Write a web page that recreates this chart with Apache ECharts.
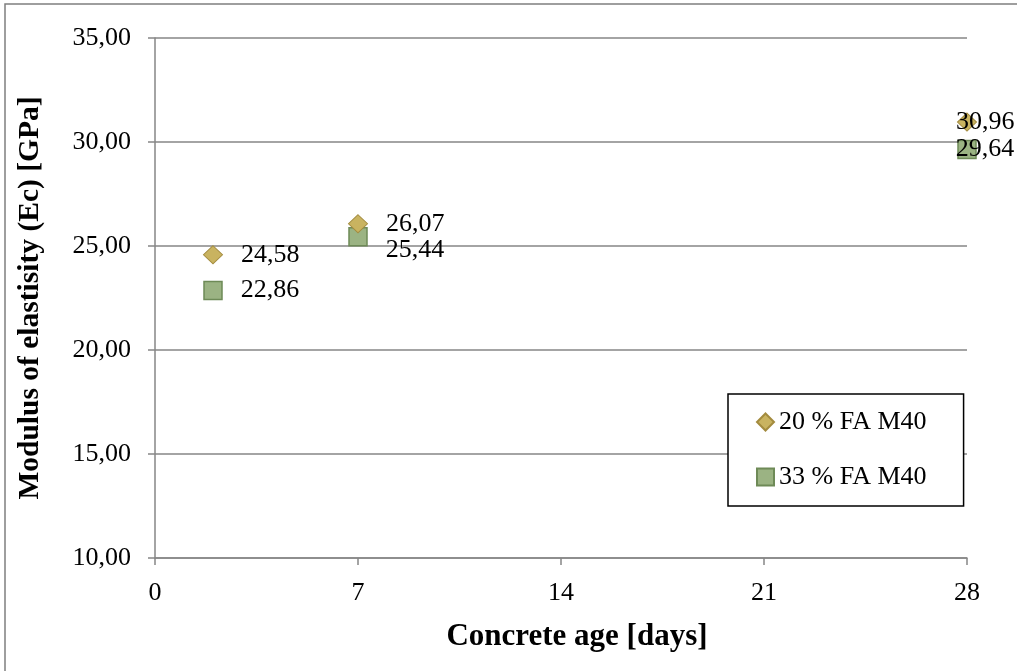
<!DOCTYPE html>
<html><head><meta charset="utf-8">
<script src="https://cdn.jsdelivr.net/npm/echarts@6/dist/echarts.min.js"></script>
<style>html,body{margin:0;padding:0;background:#fff}#c{width:1017px;height:671px}</style>
</head><body><div id="c"></div>
<script>
const ages = [2, 7, 28];
const fa20 = [24.58, 26.07, 30.96];
const fa33 = [22.86, 25.44, 29.64];
const seriesNames = ['20 % FA M40', '33 % FA M40'];
const xTicks = [0, 7, 14, 21, 28];
const yMin = 10, yMax = 35, yStep = 5;

const FONT = 'Liberation Serif';
function fmt(v){ return v.toFixed(2).replace('.', ','); }

function build(vals, overrides){
  return vals.map((v,i)=>{
    const d = {value:[ages[i], v]};
    if (overrides[i]) d.label = overrides[i];
    return d;
  });
}
const chart = echarts.init(document.getElementById('c'), null, {renderer:'canvas'});
const baseLabel = {show:true, position:'right', distance:18, color:'#000', fontFamily:FONT, fontSize:26,
  formatter:p=>fmt(p.value[1])};
chart.setOption({
  animation:false,
  backgroundColor:'#fff',
  graphic:[{type:'rect', shape:{x:5,y:4,width:1100,height:800}, style:{fill:'none', stroke:'#7f7f7f', lineWidth:1.5}, z:-1}],
  grid:{left:155, right:50, top:38, bottom:113},
  xAxis:{type:'value', min:xTicks[0], max:xTicks[xTicks.length-1], interval:7,
    name:'Concrete age [days]', nameLocation:'middle', nameGap:63,
    nameTextStyle:{fontFamily:FONT, fontWeight:'bold', fontSize:31, color:'#000', padding:[0,0,0,32]},
    axisLine:{lineStyle:{color:'#868686', width:1.5}},
    axisTick:{show:true, length:7, lineStyle:{color:'#868686', width:1.5}},
    axisLabel:{color:'#000', fontFamily:FONT, fontSize:26, margin:22},
    splitLine:{show:false}},
  yAxis:{type:'value', min:yMin, max:yMax, interval:yStep,
    name:'Modulus of elastisity (Ec) [GPa]', nameLocation:'middle', nameGap:110,
    nameTextStyle:{fontFamily:FONT, fontWeight:'bold', fontSize:29.5, color:'#000'},
    axisLine:{show:true, lineStyle:{color:'#868686', width:1.5}},
    axisTick:{show:true, length:7, lineStyle:{color:'#868686', width:1.5}},
    axisLabel:{color:'#000', fontFamily:FONT, fontSize:26, margin:24, formatter:v=>fmt(v)},
    splitLine:{show:true, lineStyle:{color:'#868686', width:1.5}}},
  legend:{orient:'vertical', left:728, top:394, padding:[15,37,16,28], itemGap:29,
    itemWidth:17, itemHeight:17, backgroundColor:'#fff', borderColor:'#000', borderWidth:1.5,
    textStyle:{fontFamily:FONT, fontSize:26, color:'#000', lineHeight:26},
    data:[{name:seriesNames[0], icon:'diamond'},{name:seriesNames[1], icon:'rect'}]},
  series:[
    {name:seriesNames[0], type:'scatter', symbol:'diamond', symbolSize:[19,18], z:3,
      itemStyle:{color:'#c9b360', borderColor:'#a38b3e', borderWidth:1, opacity:1},
      label:baseLabel,
      data:build(fa20, {2:{offset:[-39,0]}})},
    {name:seriesNames[1], type:'scatter', symbol:'rect', symbolSize:18, z:2,
      itemStyle:{color:'#9bb383', borderColor:'#6e8a57', borderWidth:1.5, opacity:1},
      label:baseLabel,
      data:build(fa33, {1:{offset:[0,13]}, 2:{offset:[-39,0]}})}
  ]
});
</script></body></html>
